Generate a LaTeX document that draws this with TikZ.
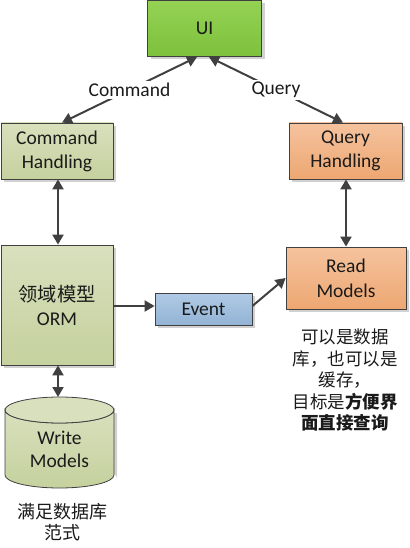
\documentclass[tikz,border=0pt]{standalone}
\usepackage{fontspec}
\setmainfont{Carlito}
\newfontfamily\cjk{Noto Sans CJK SC}
\usetikzlibrary{arrows.meta,shadows}
\definecolor{ln}{HTML}{404040}
\definecolor{txt}{HTML}{1A1A1A}
\definecolor{uiT}{HTML}{95D254}
\definecolor{uiB}{HTML}{7DC13D}
\definecolor{olT}{HTML}{D8E0BD}
\definecolor{olB}{HTML}{C5D19E}
\definecolor{orT}{HTML}{F5C39E}
\definecolor{orB}{HTML}{EDA772}
\definecolor{blT}{HTML}{AFCAE4}
\definecolor{blB}{HTML}{93B3D5}
\tikzset{
  box/.style={draw=ln, line width=0.8pt, inner sep=0pt, align=center, text=txt,
    font=\fontsize{19.5}{24}\selectfont,
    drop shadow={shadow xshift=3pt, shadow yshift=-3pt, fill=black!18, opacity=1}},
  conn/.style={draw=ln, line width=2pt, {Triangle[length=10pt,width=11pt]}-{Triangle[length=10pt,width=11pt]}},
  onearr/.style={draw=ln, line width=2pt, -{Triangle[length=10pt,width=11pt]}},
  lbl/.style={fill=white, inner sep=2pt, text=txt, font=\fontsize{19.5}{24}\selectfont},
  note/.style={align=center, text=txt, inner sep=0pt}
}
\begin{document}
\begin{tikzpicture}[x=1pt,y=-1pt]
\useasboundingbox (0,0) rectangle (409,548);
% boxes
\node[box, top color=uiT, bottom color=uiB, minimum width=114pt, minimum height=56pt] (ui) at (204.5,28.5) {UI};
\node[box, top color=olT, bottom color=olB, minimum width=112pt, minimum height=56pt] (cmd) at (57,151) {Command\\Handling};
\node[box, top color=orT, bottom color=orB, minimum width=113pt, minimum height=56pt] (qry) at (345.5,151) {Query\\Handling};
\node[box, top color=olT, bottom color=olB, minimum width=112pt, minimum height=120pt] (dom) at (57,305) {{\cjk\fontsize{19.3}{24}\selectfont 领域模型}\\ORM};
\node[box, top color=blT, bottom color=blB, minimum width=97pt, minimum height=32pt] (evt) at (203.5,309) {Event};
\node[box, top color=orT, bottom color=orB, minimum width=120pt, minimum height=62pt, font=\fontsize{19.5}{25}\selectfont] (rm) at (346,278) {Read\\Models};
% cylinder
\fill[black!18] (8,413) -- (8,478) arc[start angle=180,end angle=360,x radius=54.5,y radius=13] -- (117,413) -- cycle;
\path[draw=ln, line width=0.8pt, top color=olT, bottom color=olB] (5,410) -- (5,475) arc[start angle=180,end angle=360,x radius=54.5,y radius=-13] -- (114,410) arc[start angle=0,end angle=180,x radius=54.5,y radius=13] -- cycle;
\path[draw=ln, line width=0.8pt, fill=olT] (59.5,410) ellipse[x radius=54.5, y radius=13];
\coordinate (wmtop) at (58,397);
\node[note, font=\fontsize{19.5}{23}\selectfont] (wm) at (59.5,449) {Write\\Models};
% connectors
\draw[conn] (cmd.north -| 62,0) -- node[lbl] (lc) {Command} (197,57);
\draw[conn] (209,57) -- node[lbl] (lq) {Query} (qry.north -| 343,0);
\draw[conn] (cmd.south -| 58,0) -- (dom.north -| 58,0);
\draw[conn] (qry.south -| 346,0) -- (rm.north -| 346,0);
\draw[conn] (dom.south -| 58,0) -- (wmtop);
\draw[onearr] (dom.east |- 0,306) -- (evt.west |- 0,306);
\draw[onearr] (evt.east |- 0,306) -- (rm.west |- 0,278);
% notes
\node[note, font=\cjk\fontsize{17.5}{21.5}\selectfont] (n1) at (345,380) {可以是数据\\库，也可以是\\缓存，\\目标是{\bfseries 方便界}\\{\bfseries 面直接查询}};
\node[note, font=\cjk\fontsize{18}{21}\selectfont] (n2) at (62,522) {满足数据库\\范式};
\end{tikzpicture}
\end{document}
